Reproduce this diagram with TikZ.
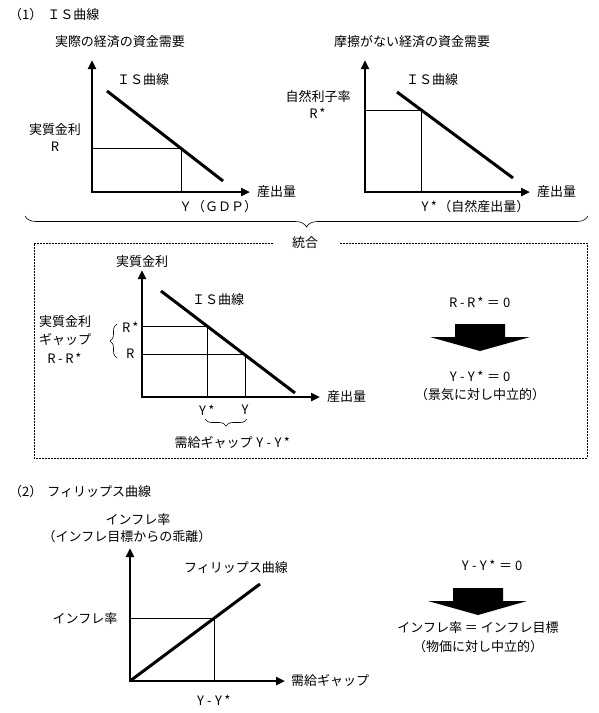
\documentclass[tikz,border=0pt]{standalone}
\usepackage{fontspec}
\setmainfont{Noto Sans CJK JP}
\usetikzlibrary{arrows.meta,decorations.pathreplacing}
% half-width monospaced cells for ASCII runs
\def\mono#1{\monoloop#1\relax}
\def\monoloop#1{\ifx#1\relax\else\makebox[9pt]{#1}\expandafter\monoloop\fi}
\begin{document}
\begin{tikzpicture}[x=1pt,y=-1pt,
  font=\fontsize{13}{15}\selectfont,
  axes/.style={line width=2.4pt,line join=miter,
    {Triangle[length=9pt,width=8pt]}-{Triangle[length=9pt,width=8pt]}},
  curve/.style={line width=3pt},
  guide/.style={line width=0.8pt},
  lbl/.style={inner sep=0pt,anchor=center},
  brc/.style={line width=0.6pt,decorate,decoration={brace,amplitude=#1}},
  dbox/.style={line width=0.7pt,dash pattern=on 2pt off 1pt},
  blockarrow/.style={fill=black}
]
\useasboundingbox (0,0) rectangle (599,713);

% ---------- (1) titles
\node[lbl,anchor=west] (t1) at (9,15) {（1）\hspace{5pt}ＩＳ曲線};

% ---------- panel 1
\node[lbl] (h1) at (120,42) {実際の経済の資金需要};
\coordinate (o1) at (92,192);
\coordinate (yt1) at (92,60);
\coordinate (xt1) at (250,192);
\draw[axes] (yt1) -- (o1) -- (xt1);
\coordinate (a1) at (107,91);
\coordinate (b1) at (223,181);
\draw[curve] (a1) -- (b1);
\coordinate (c1) at (181,148.5);
\draw[guide] (o1 |- c1) -- (c1) -- (c1 |- o1);
\node[lbl] (is1) at (143,80) {ＩＳ曲線};
\node[lbl] (r1a) at (55,130) {実質金利};
\node[lbl] (r1b) at (55,147) {\mono{R}};
\node[lbl,anchor=west] (x1) at (257,192) {産出量};
\node[lbl] (y1) at (218,207) {Ｙ（ＧＤＰ）};

% ---------- panel 2
\node[lbl] (h2) at (412,42) {摩擦がない経済の資金需要};
\coordinate (o2) at (365,192);
\coordinate (yt2) at (365,60);
\coordinate (xt2) at (530,192);
\draw[axes] (yt2) -- (o2) -- (xt2);
\coordinate (a2) at (397,92);
\coordinate (b2) at (513,178);
\draw[curve] (a2) -- (b2);
\coordinate (c2) at (421,110.5);
\draw[guide] (o2 |- c2) -- (c2) -- (c2 |- o2);
\node[lbl] (is2) at (432,80) {ＩＳ曲線};
\node[lbl] (r2a) at (318,97) {自然利子率};
\node[lbl] (r2b) at (318,113) {\mono{R*}};
\node[lbl,anchor=west] (x2) at (537,192) {産出量};
\node[lbl] (y2) at (475,207) {\mono{Y*}（自然産出量）};

% big brace
\coordinate (bb1) at (588,216);
\coordinate (bb2) at (25,216);
\draw[brc=11pt] (bb1) -- (bb2);

% ---------- integration box
\draw[dbox] (273,243) -- (34,243) -- (34,458) -- (587,458) -- (587,243) -- (340,243);
\node[lbl] (tg) at (305,243) {統合};

\node[lbl] (h3) at (142,262) {実質金利};
\coordinate (o3) at (142,397);
\coordinate (yt3) at (142,270);
\coordinate (xt3) at (320,397);
\draw[axes] (yt3) -- (o3) -- (xt3);
\coordinate (a3) at (161,291);
\coordinate (b3) at (295,393);
\draw[curve] (a3) -- (b3);
\coordinate (c3a) at (207,326.5);
\coordinate (c3b) at (245,354.5);
\draw[guide] (o3 |- c3a) -- (c3a) -- (c3a |- o3);
\draw[guide] (o3 |- c3b) -- (c3b) -- (c3b |- o3);
\node[lbl] (is3) at (218,300) {ＩＳ曲線};
\node[lbl,anchor=east] (rs3) at (140,327) {\mono{R*}};
\node[lbl,anchor=east] (rr3) at (135,354) {\mono{R}};
\coordinate (lb1) at (117,358);
\coordinate (lb2) at (117,324);
\draw[brc=7pt] (lb1) -- (lb2);
\node[lbl] (g3a) at (65,322) {実質金利};
\node[lbl] (g3b) at (65,340) {ギャップ};
\node[lbl] (g3c) at (65,358) {\mono{R-R*}};
\node[lbl,anchor=west] (x3) at (327,397) {産出量};
\node[lbl] (ys3) at (207,410) {\mono{Y*}};
\node[lbl] (yy3) at (245,410) {\mono{Y}};
\coordinate (bl1) at (247,419);
\coordinate (bl2) at (205,419);
\draw[brc=7pt] (bl1) -- (bl2);
\node[lbl] (gap3) at (233,443) {需給ギャップ \mono{Y-Y*}};

\node[lbl] (e1) at (480,302) {\mono{R-R*}\,＝\,\mono{0}};
\fill[blockarrow] (455,324) -- (505,324) -- (505,337) -- (530,337)
  -- (480,351) -- (430,337) -- (455,337) -- cycle;
\node[lbl] (e2) at (480,376) {\mono{Y-Y*}\,＝\,\mono{0}};
\node[lbl] (e3) at (480,395) {（景気に対し中立的）};

% ---------- (2) Phillips
\node[lbl,anchor=west] (t2) at (9,492) {（2）\hspace{5pt}フィリップス曲線};
\node[lbl] (h4a) at (138,520) {インフレ率};
\node[lbl] (h4b) at (127,537) {（インフレ目標からの乖離）};
\coordinate (o4) at (130,681);
\coordinate (yt4) at (130,548);
\coordinate (xt4) at (285,681);
\draw[axes] (yt4) -- (o4) -- (xt4);
\coordinate (b4) at (260,584);
\draw[curve] (o4) -- (b4);
\coordinate (c4) at (214,618.5);
\draw[guide] (o4 |- c4) -- (c4) -- (c4 |- o4);
\node[lbl] (pc4) at (236,568) {フィリップス曲線};
\node[lbl] (ir4) at (85,619) {インフレ率};
\node[lbl,anchor=west] (x4) at (291,681) {需給ギャップ};
\node[lbl] (y4) at (214,700) {\mono{Y-Y*}};

\node[lbl] (f1) at (492,565) {\mono{Y-Y*}\,＝\,\mono{0}};
\fill[blockarrow] (453,588) -- (503,588) -- (503,601) -- (527,601)
  -- (478,615) -- (428,601) -- (453,601) -- cycle;
\node[lbl] (f2) at (478,628) {インフレ率 ＝ インフレ目標};
\node[lbl] (f3) at (478,647) {（物価に対し中立的）};
\end{tikzpicture}
\end{document}
